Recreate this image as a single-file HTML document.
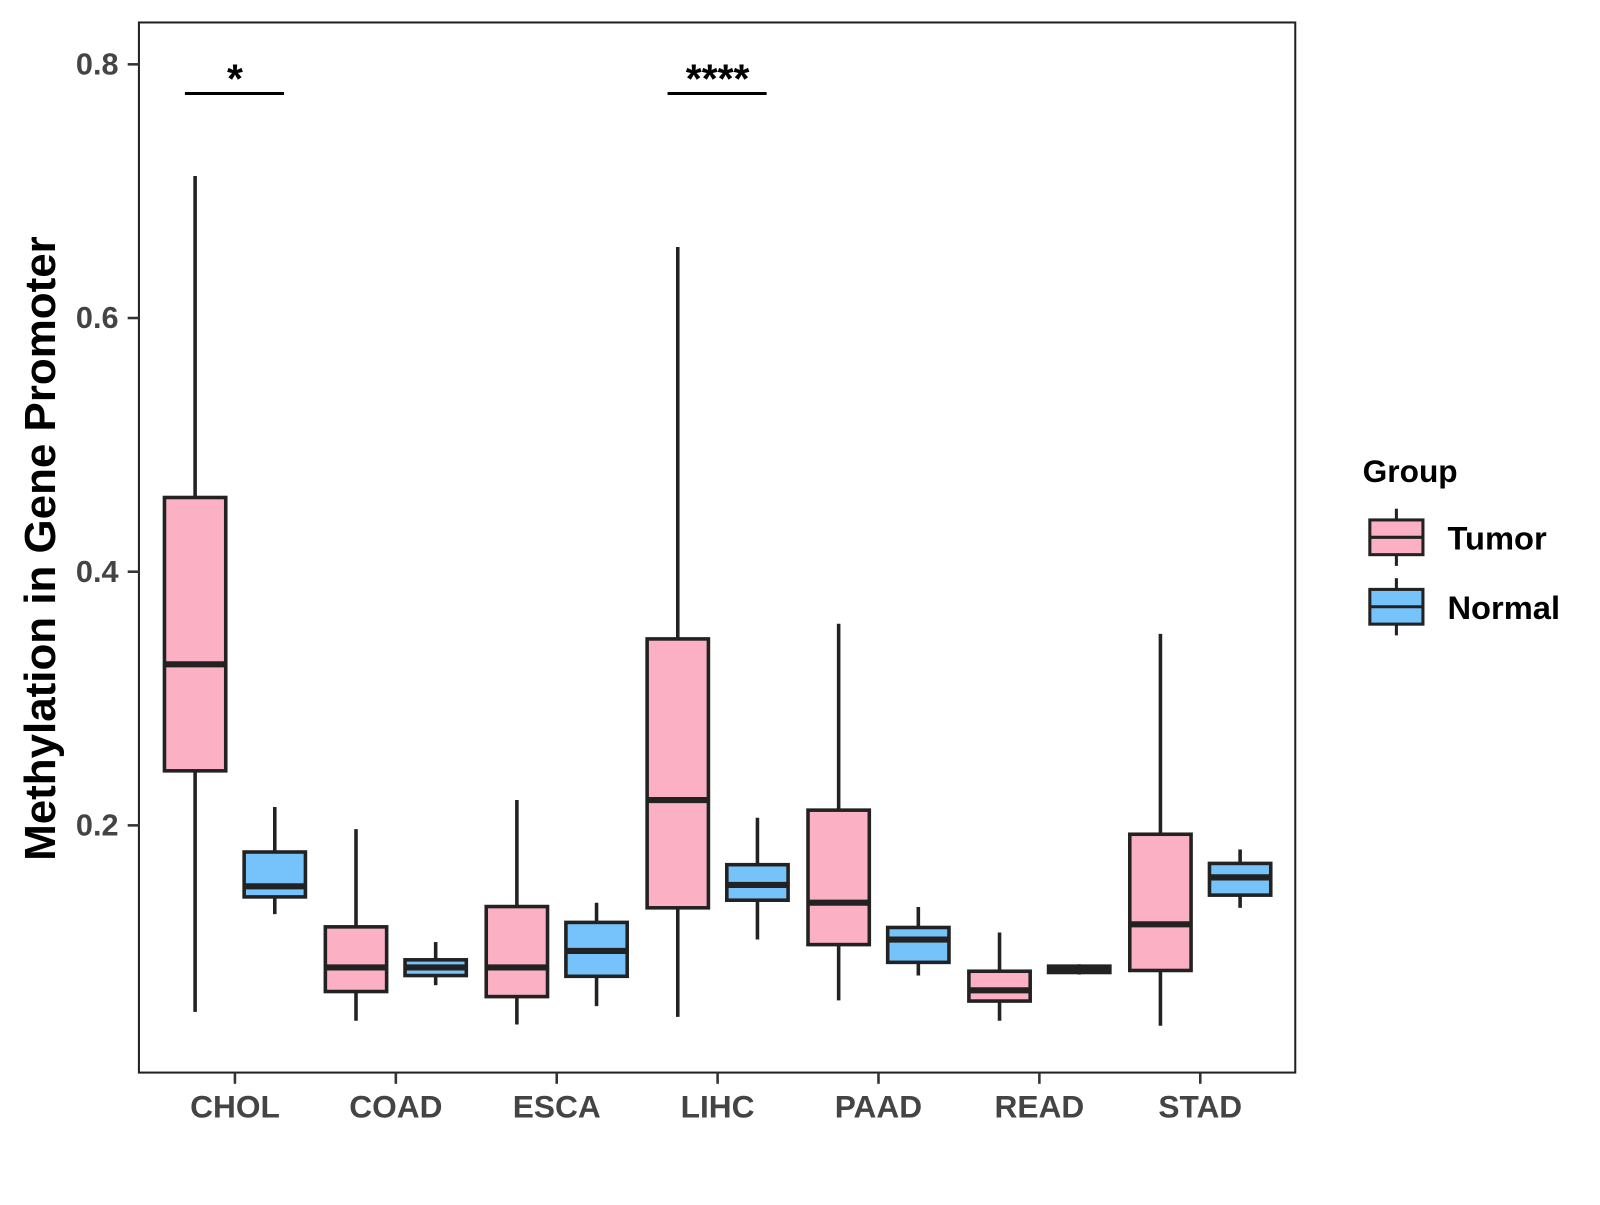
<!DOCTYPE html>
<html><head><meta charset="utf-8"><style>
html,body{margin:0;padding:0;background:#fff;}
svg text{font-family:"Liberation Sans",Arial,sans-serif;font-weight:bold;}
</style></head><body>
<svg id="chart" width="1600" height="1200" xmlns="http://www.w3.org/2000/svg">
<g transform="scale(1.0215)">
<rect x="136" y="22" width="1132" height="1028" fill="#fff" stroke="#222" stroke-width="2"/>
<g id="marks"></g>
<g id="axes"></g>
<text x="0" y="0" transform="translate(54,537) rotate(-90)" text-anchor="middle" font-size="43" fill="#000">Methylation in Gene Promoter</text>
<g>
<text x="1334" y="472" font-size="31" fill="#000">Group</text>
<g>
<line x1="1367" y1="498" x2="1367" y2="554" stroke="#222" stroke-width="3"/>
<rect x="1341" y="509" width="52" height="34" fill="#FBB1C3" stroke="#222" stroke-width="3"/>
<line x1="1341" y1="526" x2="1393" y2="526" stroke="#222" stroke-width="3"/>
<text x="1417" y="538" font-size="32" fill="#000">Tumor</text>
</g>
<g>
<line x1="1367" y1="566" x2="1367" y2="622" stroke="#222" stroke-width="3"/>
<rect x="1341" y="577" width="52" height="34" fill="#76C2FA" stroke="#222" stroke-width="3"/>
<line x1="1341" y1="594" x2="1393" y2="594" stroke="#222" stroke-width="3"/>
<text x="1417" y="606" font-size="32" fill="#000">Normal</text>
</g>
</g>
</g>
</svg>
<script>
const categories=["CHOL","COAD","ESCA","LIHC","PAAD","READ","STAD"];
const groups=["Tumor","Normal"];
const tumorStats=[
 [0.053,0.243,0.327,0.4585,0.712],
 [0.046,0.069,0.088,0.120,0.197],
 [0.043,0.065,0.088,0.136,0.220],
 [0.049,0.135,0.220,0.347,0.656],
 [0.062,0.106,0.139,0.212,0.359],
 [0.046,0.0615,0.070,0.085,0.1155],
 [0.042,0.0856,0.122,0.193,0.351]];
const normalStats=[
 [0.130,0.1436,0.152,0.179,0.2145],
 [0.074,0.0816,0.088,0.094,0.108],
 [0.0575,0.081,0.101,0.1235,0.139],
 [0.110,0.141,0.153,0.169,0.206],
 [0.0816,0.092,0.110,0.1195,0.1356],
 [0.0824,0.084,0.0865,0.089,0.0905],
 [0.135,0.145,0.159,0.170,0.181]];
const yTicks=[0.2,0.4,0.6,0.8];
const sigCategories=["CHOL","LIHC"];
const sigLabels=["*","****"];
const sigHeights=[0.777,0.777];

const NS="http://www.w3.org/2000/svg";
function yS(v){return 808-(v-0.2)*1241.7;}
function xS(i){return 230+i*157.5;}
const fills={Tumor:"#FBB1C3",Normal:"#76C2FA"};
const marks=document.getElementById("marks");
const axes=document.getElementById("axes");
function mk(tag,attrs,parent){const e=document.createElementNS(NS,tag);for(const k in attrs)e.setAttribute(k,attrs[k]);parent.appendChild(e);return e;}

categories.forEach((c,i)=>{
 [tumorStats[i],normalStats[i]].forEach((s,g)=>{
  const cx=xS(i)+(g===0?-39:39);
  const grp=mk("g",{},marks);
  
  
  mk("line",{x1:cx,x2:cx,y1:yS(s[4]),y2:yS(s[0]),stroke:"#222","stroke-width":3.5},grp);
  mk("rect",{x:cx-30,y:yS(s[3]),width:60,height:yS(s[1])-yS(s[3]),fill:fills[groups[g]],stroke:"#222","stroke-width":3.5},grp);
  mk("line",{x1:cx-30,x2:cx+30,y1:yS(s[2]),y2:yS(s[2]),stroke:"#222","stroke-width":6},grp);
 });
 const t=mk("line",{x1:xS(i),x2:xS(i),y1:1050,y2:1061,stroke:"#333","stroke-width":2.5},axes);
 
 
 const l=mk("text",{x:xS(i),y:1094,"text-anchor":"middle","font-size":31,fill:"#444"},axes);
 l.textContent=c;
 
 
});
yTicks.forEach(v=>{
 const t=mk("line",{x1:125,x2:136,y1:yS(v),y2:yS(v),stroke:"#333","stroke-width":2.5},axes);
 
 
 const l=mk("text",{x:116,y:yS(v)+10,"text-anchor":"end","font-size":30,fill:"#444"},axes);
 l.textContent=v.toFixed(1);
 
 
});
sigCategories.forEach((c,k)=>{
 const i=categories.indexOf(c);const y=yS(sigHeights[k]);
 const ln=mk("line",{x1:xS(i)-49,x2:xS(i)+48,y1:y,y2:y,stroke:"#000","stroke-width":3},marks);
 
 
 const tx=mk("text",{x:xS(i),y:y-1,"text-anchor":"middle","font-size":40,fill:"#000"},marks);
 tx.textContent=sigLabels[k];
 
 
});
</script>
</body></html>
